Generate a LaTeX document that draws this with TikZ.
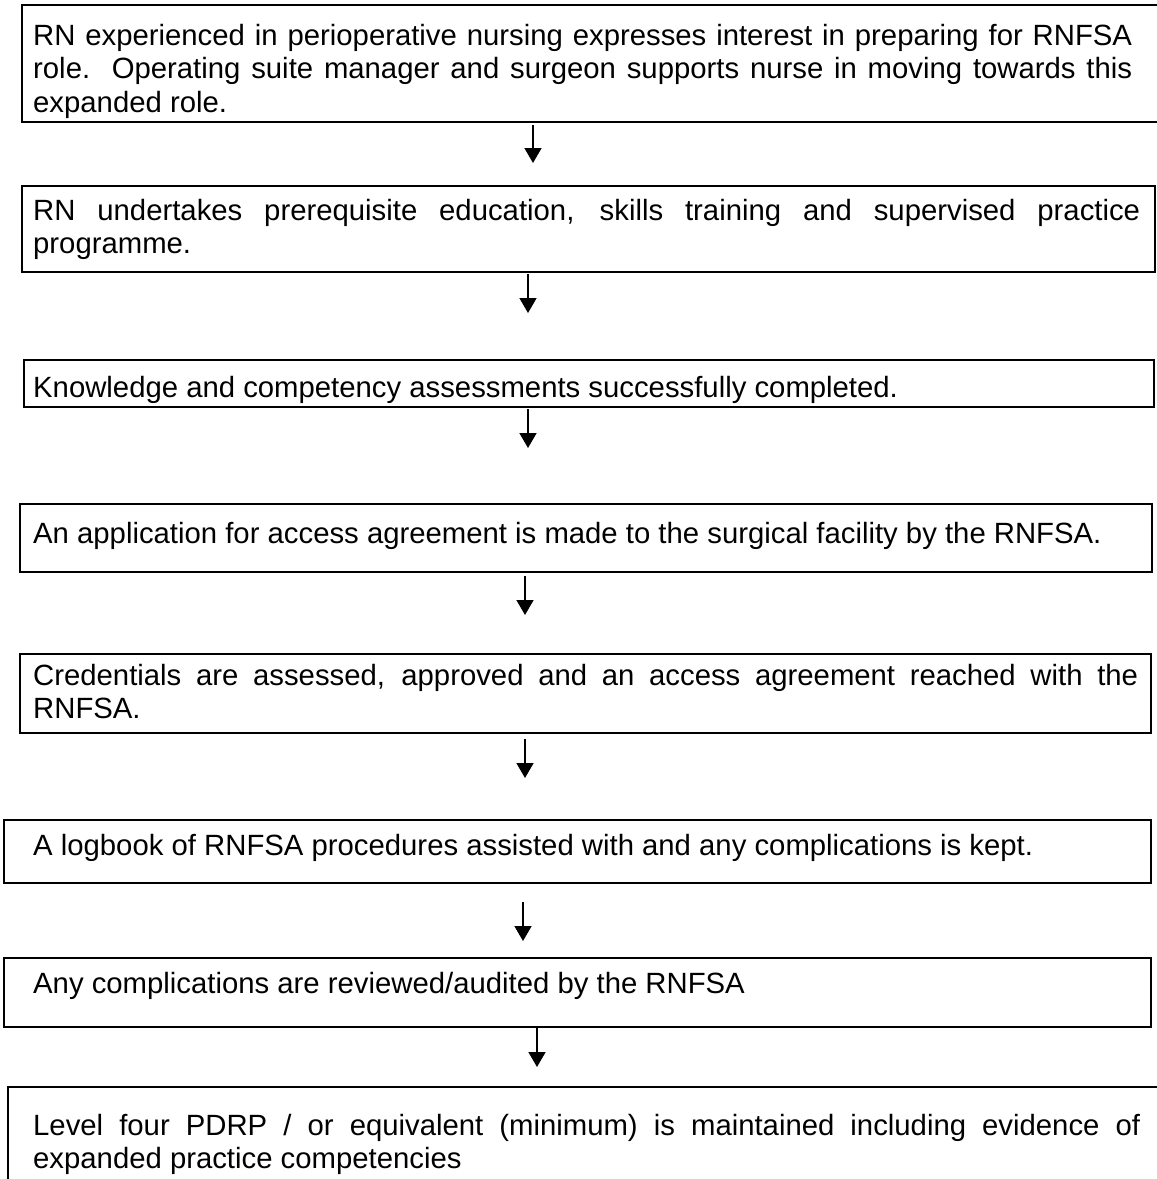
\documentclass[tikz,border=0pt]{standalone}
\usepackage{fontspec}
\setmainfont{Liberation Sans}
\usetikzlibrary{arrows.meta}
\begin{document}
\begin{tikzpicture}[x=1pt,y=-1pt,
  stepbox/.style={draw, line width=1.3pt, inner sep=0pt, outer sep=0pt},
  steptext/.style={anchor=base west, inner sep=0pt, align=justify, font=\fontsize{29.3}{33.5}\selectfont},
  flow/.style={line width=1.5pt, -{Triangle[width=17pt,length=15pt]}}]
\useasboundingbox (0,0) rectangle (1157,1179);
\clip (0,0) rectangle (1157,1179);
% boxes
\node[stepbox, minimum width=1140pt, minimum height=117pt] (b1) at (592,63.5) {};
\node[stepbox, minimum width=1133pt, minimum height=86pt] (b2) at (588.5,229) {};
\node[stepbox, minimum width=1130pt, minimum height=47pt] (b3) at (589,383.5) {};
\node[stepbox, minimum width=1132pt, minimum height=68pt] (b4) at (586,538) {};
\node[stepbox, minimum width=1131pt, minimum height=79pt] (b5) at (585.5,693.5) {};
\node[stepbox, minimum width=1147pt, minimum height=63pt] (b6) at (577.5,851.5) {};
\node[stepbox, minimum width=1147pt, minimum height=69pt] (b7) at (577.5,992.5) {};
\node[stepbox, minimum width=1157pt, minimum height=113pt] (b8) at (586.5,1143.5) {};
% texts
\node[steptext, text width=1099pt] (t1) at (33,45) {RN experienced in perioperative nursing expresses interest in preparing for RNFSA\linebreak role.\ \ Operating suite manager and surgeon supports nurse in moving towards this\linebreak expanded role.};
\node[steptext, text width=1107pt] (t2) at (33,220) {RN undertakes prerequisite education, skills training and supervised practice\linebreak programme.};
\node[steptext, text width=1107pt] (t3) at (33,397) {Knowledge and competency assessments successfully completed.};
\node[steptext, text width=1107pt] (t4) at (33,543) {An application for access agreement is made to the surgical facility by the RNFSA.};
\node[steptext, text width=1105pt] (t5) at (33,685) {Credentials are assessed, approved and an access agreement reached with the\linebreak RNFSA.};
\node[steptext, text width=1107pt] (t6) at (33,855) {A logbook of RNFSA procedures assisted with and any complications is kept.};
\node[steptext, text width=1107pt] (t7) at (33,993) {Any complications are reviewed/audited by the RNFSA};
\node[steptext, text width=1107pt] (t8) at (33,1135) {Level four PDRP / or equivalent (minimum) is maintained including evidence of\linebreak expanded practice competencies};
% arrows
\coordinate (a1s) at (533,125); \coordinate (a1e) at (533,163);
\coordinate (a2s) at (528,274); \coordinate (a2e) at (528,313);
\coordinate (a3s) at (528,409); \coordinate (a3e) at (528,448);
\coordinate (a4s) at (525,576); \coordinate (a4e) at (525,615);
\coordinate (a5s) at (525,739); \coordinate (a5e) at (525,778);
\coordinate (a6s) at (523,902); \coordinate (a6e) at (523,941);
\coordinate (a7s) at (537,1028); \coordinate (a7e) at (537,1067);
\draw[flow] (a1s) -- (a1e);
\draw[flow] (a2s) -- (a2e);
\draw[flow] (a3s) -- (a3e);
\draw[flow] (a4s) -- (a4e);
\draw[flow] (a5s) -- (a5e);
\draw[flow] (a6s) -- (a6e);
\draw[flow] (a7s) -- (a7e);
\end{tikzpicture}
\end{document}
